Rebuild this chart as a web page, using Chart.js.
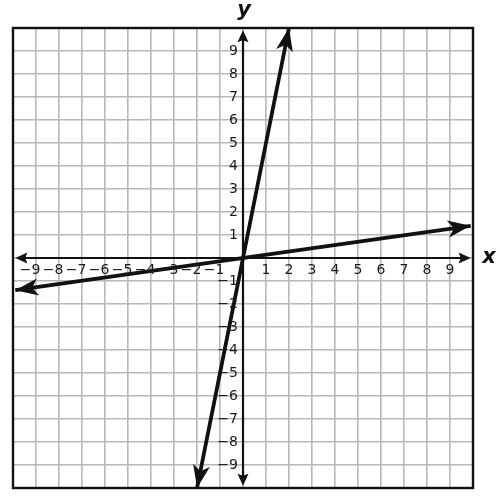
<!DOCTYPE html>
<html>
<head>
<meta charset="utf-8">
<script src="https://cdn.jsdelivr.net/npm/chart.js@4.4.0/dist/chart.umd.min.js"></script>
<style>
  html, body { margin: 0; padding: 0; background: #fff; }
  #wrap { width: 500px; height: 498px; }
</style>
</head>
<body>
<div id="wrap"><canvas id="graph"></canvas></div>
<script>
// Axis ticks (no 0 label on either axis)
const xTicks = [-9, -8, -7, -6, -5, -4, -3, -2, -1, 1, 2, 3, 4, 5, 6, 7, 8, 9];
const yTicks = [-9, -8, -7, -6, -5, -4, -3, -2, -1, 1, 2, 3, 4, 5, 6, 7, 8, 9];

// Two lines through the origin (endpoints)
const steepX = [-2, 2];
const steepY = [-10, 10];
const shallowX = [-9.9, 9.9];
const shallowY = [-1.4, 1.4];

// axis arrows reach just inside the border
const axisEnd = 9.9;

const toPoints = (xs, ys) => xs.map((x, i) => ({ x: x, y: ys[i] }));

function arrowHead(ctx, x0, y0, x1, y1, len, half, notch) {
  const a = Math.atan2(y1 - y0, x1 - x0);
  ctx.save();
  ctx.translate(x1, y1);
  ctx.rotate(a);
  ctx.beginPath();
  ctx.moveTo(0, 0);
  ctx.lineTo(-len, -half);
  ctx.lineTo(-len + notch, 0);
  ctx.lineTo(-len, half);
  ctx.closePath();
  ctx.fillStyle = "#111";
  ctx.fill();
  ctx.restore();
}

const graphPlugin = {
  id: "graphPaper",
  afterDatasetsDraw(chart) {
    const ctx = chart.ctx;
    const xs = chart.scales.x;
    const ys = chart.scales.y;
    const ox = xs.getPixelForValue(0);
    const oy = ys.getPixelForValue(0);
    const area = chart.chartArea;

    // outer border
    ctx.save();
    ctx.strokeStyle = "#111";
    ctx.lineWidth = 2.4;
    ctx.strokeRect(area.left, area.top, area.right - area.left, area.bottom - area.top);

    // axes with arrows at both ends
    ctx.lineWidth = 2.2;
    const xl = xs.getPixelForValue(-axisEnd), xr = xs.getPixelForValue(axisEnd);
    const yt = ys.getPixelForValue(axisEnd), yb = ys.getPixelForValue(-axisEnd);
    ctx.beginPath();
    ctx.moveTo(xl + 6, oy); ctx.lineTo(xr - 6, oy);
    ctx.moveTo(ox, yt + 6); ctx.lineTo(ox, yb - 6);
    ctx.stroke();
    arrowHead(ctx, ox, oy, xl, oy, 12, 5.5, 2);
    arrowHead(ctx, ox, oy, xr, oy, 12, 5.5, 2);
    arrowHead(ctx, ox, oy, ox, yt, 12, 5.5, 2);
    arrowHead(ctx, ox, oy, ox, yb, 12, 5.5, 2);

    // tick labels
    ctx.fillStyle = "#1a1a1a";
    ctx.font = "14px 'DejaVu Sans'";
    ctx.textBaseline = "middle";
    xTicks.forEach((v) => {
      const px = xs.getPixelForValue(v);
      const digit = String(Math.abs(v));
      const dw = ctx.measureText(digit).width;
      ctx.textAlign = "right";
      ctx.fillText((v < 0 ? "\u2212" : "") + digit, px + dw / 2, oy + 12);
    });
    yTicks.forEach((v) => {
      const py = ys.getPixelForValue(v);
      ctx.textAlign = "right";
      ctx.fillText((v < 0 ? "\u2212" : "") + Math.abs(v), ox - 5, py);
    });

    // axis letters
    ctx.font = "italic bold 21px 'DejaVu Sans'";
    ctx.fillStyle = "#111";
    ctx.textAlign = "center";
    ctx.fillText("x", 489, oy);
    ctx.fillText("y", ox + 1, 11);

    // arrowheads on the two lines
    chart.data.datasets.forEach((ds, i) => {
      const pts = chart.getDatasetMeta(i).data;
      const a = pts[0], b = pts[pts.length - 1];
      arrowHead(ctx, b.x, b.y, a.x, a.y, 23, 8.5, 6);
      arrowHead(ctx, a.x, a.y, b.x, b.y, 23, 8.5, 6);
    });
    ctx.restore();
  }
};

new Chart(document.getElementById("graph").getContext("2d"), {
  type: "scatter",
  data: {
    datasets: [
      {
        label: "steep",
        data: toPoints(steepX, steepY),
        showLine: true,
        borderColor: "#111",
        borderWidth: 3.8,
        pointRadius: 0,
      },
      {
        label: "shallow",
        data: toPoints(shallowX, shallowY),
        showLine: true,
        borderColor: "#111",
        borderWidth: 3.8,
        pointRadius: 0,
      },
    ],
  },
  options: {
    responsive: true,
    maintainAspectRatio: false,
    animation: false,
    layout: {
      padding: { left: 13, top: 28, right: 27, bottom: 10 },
    },
    plugins: {
      legend: { display: false },
      tooltip: { enabled: false },
    },
    scales: {
      x: {
        type: "linear",
        min: -10,
        max: 10,
        ticks: { display: false, stepSize: 1 },
        grid: { color: "#b8b8b8", lineWidth: 1.6, drawTicks: false },
        border: { display: false },
      },
      y: {
        type: "linear",
        min: -10,
        max: 10,
        ticks: { display: false, stepSize: 1 },
        grid: { color: "#b8b8b8", lineWidth: 1.6, drawTicks: false },
        border: { display: false },
      },
    },
  },
  plugins: [graphPlugin],
});
</script>
</body>
</html>
